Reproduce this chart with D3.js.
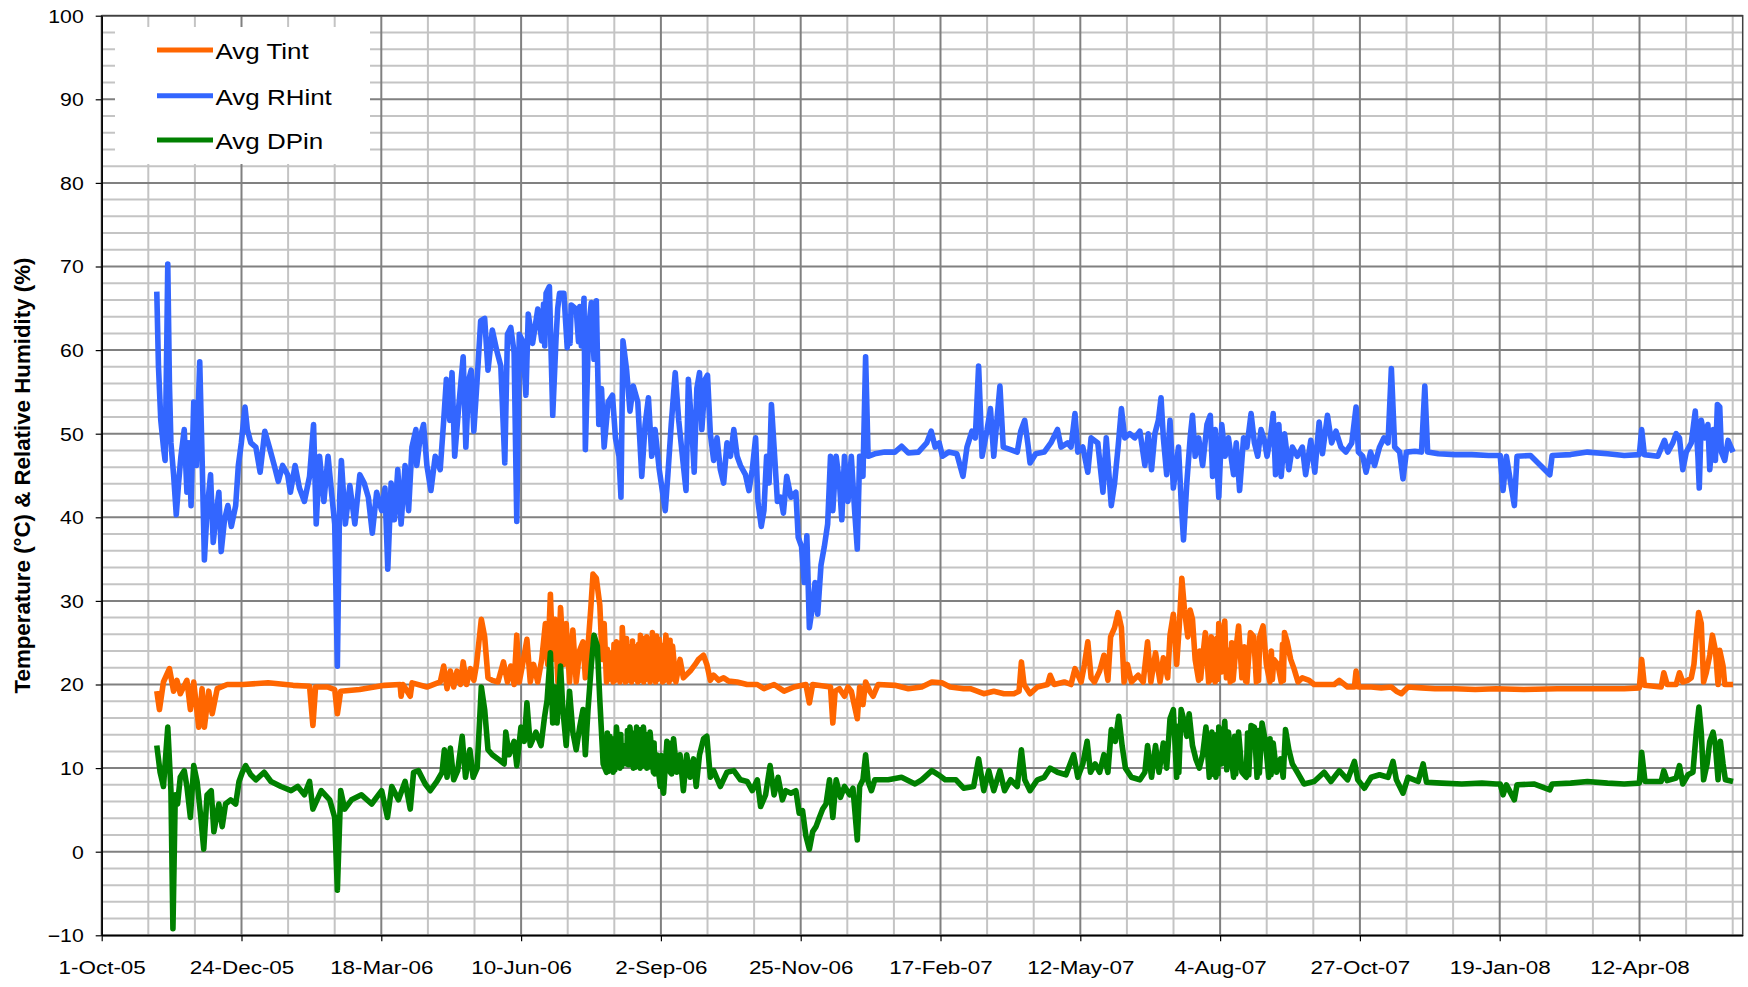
<!DOCTYPE html>
<html>
<head>
<meta charset="utf-8">
<script src="https://cdn.jsdelivr.net/npm/d3@7"></script>
<style>
  html, body { margin: 0; padding: 0; background: #fff; }
  svg { display: block; }
  text { font-family: "Liberation Sans", Arial, sans-serif; fill: #000; }
</style>
</head>
<body>
<svg id="chart" width="1748" height="987"></svg>
<script>
// ---------------- DATA ----------------
// Time axis: values are days elapsed since originDate
const originDate = "2005-10-01";
const endDate = "2008-06-13";
const xTickLabels = ["1-Oct-05", "24-Dec-05", "18-Mar-06", "10-Jun-06", "2-Sep-06", "25-Nov-06",
  "17-Feb-07", "12-May-07", "4-Aug-07", "27-Oct-07", "19-Jan-08", "12-Apr-08"];
const yTickValues = [-10, 0, 10, 20, 30, 40, 50, 60, 70, 80, 90, 100];
const yAxisTitle = "Temperature (°C) & Relative Humidity (%)";
const seriesNames = ["Avg Tint", "Avg RHint", "Avg DPin"];

// [day since origin, value]
const avgTint = [
[33.1,19.2],[34.7,17.0],[37.1,20.3],[40.7,21.9],[43.2,19.2],[45.2,20.5],[47.2,18.9],[51.2,20.5],[53.3,17.0],[55.3,20.3],
[58.3,14.9],[60.3,19.5],[61.7,14.9],[64.3,19.2],[66.4,16.5],[69.4,19.5],[75.4,20.0],[85.0,20.0],[100.0,20.2],[115.0,19.9],
[124.9,19.8],[126.9,15.1],[128.5,19.7],[136.0,19.7],[140.0,19.4],[141.6,16.5],[143.6,19.2],[155.0,19.4],[170.0,19.9],[179.3,20.0],
[179.9,18.6],[181.0,20.0],[185.4,18.6],[186.5,20.2],[195.4,19.7],[203.4,20.3],[205.5,22.2],[207.5,19.5],[209.5,21.6],[211.5,19.7],
[213.5,21.6],[215.6,20.0],[217.2,22.7],[219.2,20.0],[221.6,21.9],[223.6,20.5],[225.2,22.4],[228.1,27.8],[230.1,25.7],[232.1,20.8],
[234.7,20.5],[238.1,20.3],[241.4,22.7],[243.8,20.3],[245.8,22.2],[247.8,20.0],[249.4,25.9],[250.9,20.3],[252.9,22.4],[255.5,25.4],
[257.5,20.3],[259.5,22.4],[262.0,20.3],[264.4,23.0],[266.6,27.3],[268.0,22.4],[269.6,30.8],[271.0,23.0],[272.4,27.8],[274.1,20.3],
[275.7,29.2],[277.7,22.4],[279.1,27.3],[281.1,20.3],[283.1,26.5],[285.1,20.3],[287.2,24.1],[289.2,25.1],[290.6,20.8],[292.2,24.6],
[293.8,28.9],[295.2,33.2],[297.2,32.7],[299.3,29.5],[300.7,23.0],[301.9,27.3],[303.3,20.3],[303.8,24.2],[304.3,20.6],[305.3,23.8],
[307.3,20.3],[307.8,24.8],[308.3,20.5],[309.3,25.1],[311.4,20.3],[311.9,25.0],[312.3,20.6],[312.8,26.8],[314.8,20.3],[315.3,25.5],
[315.8,20.5],[316.4,24.6],[318.4,20.3],[318.9,25.2],[319.4,20.6],[320.0,24.6],[322.1,20.3],[322.6,24.8],[323.1,20.5],[323.7,25.9],
[325.7,20.3],[326.2,25.5],[326.7,20.6],[327.5,25.7],[329.5,20.3],[330.0,24.6],[330.4,20.5],[330.9,26.2],[332.9,20.3],[333.4,25.8],
[333.9,20.6],[335.0,25.4],[337.0,20.3],[337.5,24.7],[338.0,20.5],[339.0,25.9],[341.0,20.3],[341.5,25.3],[342.0,20.6],[343.0,24.6],
[345.0,20.3],[347.5,23.0],
[349.5,20.8],[353.6,21.6],[356.6,22.4],[358.6,23.0],[361.6,23.5],[363.6,22.4],[365.7,20.5],[367.7,21.1],[370.7,20.5],[373.7,20.8],
[376.7,20.4],[381.8,20.3],[387.8,20.0],[393.9,20.0],[397.9,19.5],[404.0,20.0],[410.0,19.2],[416.1,19.7],[423.1,20.0],[425.2,17.8],
[427.2,20.0],[437.9,19.7],[439.3,15.4],[440.7,19.2],[443.3,19.5],[446.3,18.6],[448.4,19.7],[450.4,19.2],[454.0,15.9],[455.4,19.7],
[457.4,17.6],[459.0,20.3],[461.5,19.2],[463.5,18.6],[466.5,20.0],[476.6,19.9],[484.7,19.5],[492.7,19.7],[498.8,20.3],[504.8,20.2],
[509.8,19.7],[517.9,19.5],[521.9,19.5],[530.0,18.9],[536.0,19.2],[542.1,18.9],[548.1,18.9],[551.2,19.2],[552.6,22.7],[554.2,20.0],
[557.8,18.9],[562.2,19.7],[568.3,20.0],[569.9,21.1],[572.3,20.0],[578.4,20.3],[582.4,20.0],[584.8,21.9],[588.5,20.3],[590.5,22.4],
[592.5,25.1],[594.5,20.8],[596.5,20.3],[599.6,21.6],[602.2,23.5],[604.6,20.5],[606.2,25.7],[608.6,26.8],[610.7,28.6],[612.7,26.8],
[614.3,20.3],[616.3,22.4],[618.7,20.3],[622.8,21.1],[625.8,20.3],[628.4,25.1],[630.4,20.3],[633.2,23.8],[635.9,20.3],[637.9,23.2],
[640.5,20.8],[641.9,25.9],[643.9,28.4],[645.9,22.4],[647.4,26.8],[649.0,32.7],[650.6,28.9],[652.6,25.7],[654.0,28.9],[655.4,27.8],
[657.0,23.0],[659.1,20.5],[659.8,24.0],[660.3,20.7],[661.1,22.4],[663.1,26.2],[665.1,20.3],[665.8,24.2],[666.2,20.5],[666.7,25.7],
[669.1,20.3],[669.9,25.5],[670.5,20.6],[671.2,27.3],[673.0,21.5],[674.8,27.6],[675.8,20.8],[677.0,24.1],[678.1,20.3],[679.0,25.0],
[679.8,20.5],[681.1,23.5],[683.1,27.0],[685.1,20.8],[686.5,24.5],[687.3,20.4],[688.1,20.3],[690.2,26.2],[692.2,25.7],[693.8,20.3],
[694.6,24.8],[695.1,20.5],[695.8,25.7],[697.8,27.0],[699.8,22.4],[701.9,20.3],[702.8,24.0],[703.4,20.6],[704.3,23.0],[706.7,22.4],
[708.7,20.3],[709.5,24.8],[710.0,20.5],[710.7,26.2],[712.3,25.1],[714.4,23.0],
[716.4,21.9],[718.8,20.3],[721.4,20.8],[725.5,20.5],[728.5,20.0],[734.5,20.0],[740.6,20.0],[743.6,20.5],[748.6,19.7],[752.7,19.7],
[753.7,21.6],[755.1,19.7],[762.8,19.7],[768.8,19.6],[774.9,19.7],[777.9,19.2],[780.9,18.9],[784.9,19.7],[793.0,19.6],[801.1,19.5],
[813.2,19.5],[825.3,19.4],[837.8,19.5],[854.4,19.4],[874.6,19.5],[894.7,19.5],[914.8,19.5],[923.9,19.6],[925.3,23.0],[926.9,19.9],
[937.0,19.7],[938.6,21.4],[940.6,20.0],[946.0,20.0],[948.0,21.4],[950.0,20.3],[953.1,20.5],[955.1,20.8],[956.7,22.4],[958.1,25.7],
[959.5,28.6],[961.1,27.3],[962.5,20.3],[964.1,21.4],[966.2,23.5],[967.8,25.9],[969.6,24.1],[971.2,20.0],[972.2,24.1],[974.2,22.2],
[975.2,20.0],[980.2,20.0]
];

const avgRHint = [
[33.1,67.0],[34.1,58.1],[35.5,51.6],[37.1,48.4],[38.1,46.8],[39.1,60.8],[39.7,70.3],[40.7,55.9],[41.6,48.9],[43.2,45.1],
[44.8,40.3],[46.2,44.1],[47.6,47.3],[49.6,50.5],[51.2,43.0],[52.4,48.9],[53.7,41.4],[55.3,53.8],[56.9,46.2],[58.9,58.6],
[60.3,47.3],[61.7,34.9],[63.3,40.8],[65.4,45.1],[67.0,37.0],[69.0,40.8],[70.4,43.0],[71.8,35.9],[73.8,39.7],[75.8,41.4],
[77.9,38.9],[80.5,41.4],[82.1,46.2],[83.9,48.9],[86.1,53.2],[87.5,50.5],[89.6,48.9],[92.6,48.4],[95.2,45.4],[98.0,50.3],
[100.7,48.4],[103.7,46.2],[106.1,44.3],[108.7,46.2],[111.7,45.1],[113.4,43.0],[116.2,46.2],[118.8,43.5],[121.8,41.9],[124.9,44.9],
[127.3,51.1],[128.9,39.2],[130.9,47.3],[133.5,41.9],[136.0,47.3],[138.4,42.4],[140.0,39.2],[141.6,22.2],[143.0,42.4],[144.0,46.8],
[146.4,39.2],[149.1,43.8],[152.1,39.2],[155.1,45.1],[157.7,44.1],[160.2,42.4],[162.6,38.1],[165.2,43.0],[168.2,40.8],[170.2,43.5],
[171.9,33.8],[173.9,44.1],[175.9,39.7],[177.9,45.7],[179.9,39.2],[182.3,46.2],[184.4,40.8],[186.4,48.4],[188.8,50.5],[189.3,46.2],
[191.3,49.5],[193.4,51.1],[195.4,46.2],[197.8,43.2],[200.4,47.3],[203.4,45.7],[205.5,51.6],[207.1,56.5],[209.1,51.6],[210.5,57.3],
[212.1,47.3],[214.5,53.2],[217.2,59.2],[218.8,48.4],[220.6,56.5],[222.0,57.6],[223.6,50.3],[225.6,56.5],[227.7,63.5],[230.1,63.8],
[232.1,57.6],[234.7,62.4],[237.3,60.0],[239.8,58.1],[242.2,46.5],[243.8,61.9],[245.8,62.7],[247.8,59.7],[249.4,39.5],[250.9,61.9],
[252.9,61.1],[254.9,54.6],[256.3,64.3],[258.9,60.8],[262.0,64.9],[264.4,61.1],[265.5,65.5],[266.2,60.5],[267.0,66.8],[269.0,67.6],
[271.0,52.2],[273.0,61.4],[274.0,65.0],[275.1,66.8],[277.7,66.8],[279.7,60.3],[280.8,64.0],[281.4,60.8],[282.1,65.4],[285.1,64.9],
[286.5,61.0],[287.3,65.2],[288.2,60.5],[289.8,66.2],[290.6,48.1],[292.6,62.7],[294.2,65.7],
[295.8,58.9],[297.2,65.9],[298.7,51.1],[300.3,55.4],[301.9,48.4],[304.3,53.8],[306.9,54.6],[308.7,49.5],[310.8,47.3],[312.0,42.4],
[313.2,61.1],[315.4,57.6],[317.4,52.7],[319.4,55.7],[322.1,53.8],[324.5,44.9],[326.5,51.1],[328.5,54.3],[330.5,47.3],[332.5,50.5],
[335.0,45.7],[337.0,43.0],[338.6,40.8],[340.2,45.1],[342.2,51.1],[344.6,57.3],[346.7,51.6],[349.5,46.2],[351.1,43.2],[352.5,56.5],
[354.6,50.5],[356.0,45.4],[357.6,55.4],[359.2,57.3],[360.6,50.5],[362.6,56.5],[364.0,57.0],[365.7,50.0],[367.7,46.8],[369.7,49.5],
[371.7,45.7],[373.7,44.1],[375.7,48.9],[377.8,47.3],[379.8,50.5],[381.8,47.3],[383.8,46.2],[386.8,45.1],[388.9,43.2],[390.9,45.7],
[392.9,49.5],[394.3,41.9],[396.3,38.9],[397.9,40.8],[399.5,47.3],[401.0,44.1],[402.4,53.5],[404.0,48.4],[406.0,41.9],[408.0,42.4],
[409.6,40.5],[411.6,44.9],[414.1,42.4],[417.1,43.0],[418.5,37.6],[420.5,36.5],[422.1,32.2],[423.7,37.8],[425.2,26.8],[427.2,29.5],
[428.6,32.2],[430.2,28.4],[432.2,34.3],[434.2,36.5],[436.2,39.2],[437.9,47.3],[439.3,40.8],[441.3,47.3],[443.3,44.1],[444.7,39.7],
[446.3,47.3],[448.4,41.9],[450.4,47.3],[452.4,40.8],[454.0,36.2],[455.4,47.3],[457.4,44.9],[459.0,59.2],[460.5,47.3],[464.5,47.6],
[470.5,47.8],[476.6,47.8],[480.6,48.5],[484.7,47.7],[490.7,47.8],[495.7,48.9],[498.4,50.3],[500.8,48.4],[503.2,48.9],[505.2,47.3],
[508.9,47.8],[513.8,47.6],[517.5,44.9],[519.9,48.4],[522.9,50.3],[524.9,49.5],[526.9,58.1],[529.0,47.3],[532.0,50.5],[534.0,53.0],
[536.0,47.3],[539.7,55.7],[541.7,48.4],[546.1,48.1],[550.1,47.8],[552.2,50.3],[554.6,51.6],[556.6,48.6],[557.8,46.5],[561.2,47.6],
[566.3,47.8],[570.3,48.9],[574.3,50.5],[576.4,48.4],[580.4,48.9],[582.4,48.4],[584.8,52.4],[586.5,47.8],[589.5,48.4],[592.5,45.4],
[594.5,49.5],[598.5,48.9],[601.6,43.0],[603.6,49.5],[606.6,41.4],[608.6,44.1],[610.7,48.4],[612.7,53.0],[614.7,49.5],[617.7,50.0],
[620.7,49.5],[623.8,50.3],[626.8,46.2],[628.8,50.0],[630.8,45.7],[632.8,50.0],[634.9,51.6],[636.5,54.3],[637.9,49.5],[639.9,45.1],
[641.9,51.6],[643.9,43.5],[647.0,48.4],[648.6,41.9],[650.0,37.3],[652.0,44.1],[654.0,49.5],[655.4,52.2],[657.0,47.3],[659.1,49.5],
[661.5,46.2],[664.1,51.1],[666.1,52.2],[667.5,44.9],[669.1,50.5],[671.2,42.4],[673.0,51.1],[675.0,47.3],[677.0,49.5],[680.1,45.1],
[681.7,48.9],[683.7,43.2],[686.1,49.5],[688.1,48.4],[690.6,52.4],[692.6,48.9],[694.6,47.3],[696.6,50.5],[698.6,49.2],[700.2,47.3],
[702.3,49.7],[703.9,52.4],[705.3,45.1],[707.3,51.1],[708.7,44.9],[710.7,50.0],[713.3,45.7],[715.4,48.4],[718.4,47.3],[721.4,48.4],
[723.4,45.1],[726.5,49.2],[728.9,45.4],[731.5,51.4],[733.5,47.6],[736.5,52.2],[739.0,48.9],[741.6,50.3],[744.6,48.4],[747.6,47.8],
[751.1,48.9],[753.7,53.2],[755.1,47.8],[757.7,47.3],[759.7,45.4],[762.4,47.8],[764.8,46.2],[767.8,48.4],[770.4,49.5],[772.9,48.9],
[774.9,57.8],[776.9,48.4],[779.9,47.8],[781.9,44.6],[783.9,47.8],[789.0,47.9],[793.0,47.8],[795.0,55.7],[796.7,47.8],[803.1,47.6],
[813.2,47.5],[823.3,47.5],[833.4,47.4],[840.3,47.4],[842.0,43.2],[844.0,47.3],[848.8,41.4],[850.4,47.3],[858.5,47.4],[870.1,45.1],
[871.5,47.4],[882.6,47.5],[892.7,47.8],[904.8,47.6],[914.8,47.4],[923.9,47.5],[925.3,50.5],[926.9,47.5],[935.0,47.3],[939.0,49.2],
[941.0,47.8],[944.0,48.9],[946.0,50.0],[948.0,49.5],[950.0,45.7],[952.1,47.8],[955.1,48.9],[957.5,52.7],[959.1,47.3],[959.9,43.5],
[961.1,51.6],[963.1,49.5],[965.1,51.1],[966.2,45.7],[968.2,50.5],[969.6,46.8],[970.8,53.5],[972.2,53.2],[973.2,47.8],[975.2,46.8],
[977.2,49.2],[980.2,47.8]
];

const avgDPin = [
[33.1,12.7],[35.1,9.5],[37.1,7.8],[39.7,14.9],[41.6,7.3],[42.8,-9.2],[44.2,6.8],[45.6,5.7],[47.2,8.9],[49.6,9.7],
[51.2,7.8],[53.3,4.1],[55.3,10.3],[57.3,8.4],[59.3,4.6],[61.3,0.3],[63.3,6.8],[65.8,7.3],[67.4,2.4],[70.4,5.7],
[72.4,3.0],[74.4,5.7],[77.5,6.2],[80.5,5.7],[82.5,8.4],[84.5,9.5],[86.5,10.3],[89.6,9.2],[92.6,8.6],[97.6,9.5],
[101.7,8.4],[107.7,7.8],[113.8,7.3],[117.8,7.8],[121.8,6.8],[124.9,8.4],[126.9,5.1],[131.9,7.3],[137.0,6.2],[140.0,4.1],
[141.6,-4.6],[143.6,7.3],[146.0,5.1],[150.1,6.2],[156.1,6.8],[162.2,5.7],[168.2,7.3],[171.7,4.1],[174.3,7.8],[178.3,6.2],
[182.3,8.4],[185.4,5.1],[187.4,9.5],[190.3,9.7],[194.4,8.1],[197.4,7.3],[201.4,8.4],[204.5,9.5],[205.9,12.2],[207.5,8.9],
[209.5,12.4],[211.5,8.6],[213.9,9.7],[216.6,13.8],[218.6,8.9],[221.2,12.2],[223.2,8.9],[225.6,10.0],[228.1,19.7],[230.1,17.0],
[232.1,12.2],[234.7,11.6],[238.1,11.1],[241.8,10.5],[242.8,14.3],[244.8,11.6],[247.8,13.2],[249.4,10.3],[251.9,14.9],[253.9,13.2],
[255.5,17.8],[257.5,12.7],[260.9,14.3],[264.0,12.7],[266.0,16.0],[267.6,18.1],[269.6,23.8],[271.0,15.4],[272.4,19.7],[273.6,15.4],
[275.7,22.2],[277.1,17.0],[279.1,12.7],[281.1,19.2],[283.1,14.3],[285.1,12.2],[287.2,14.9],[289.2,17.0],[290.6,11.6],[292.2,17.0],
[294.2,22.4],[295.8,25.9],[297.8,24.6],[299.3,18.1],[301.3,10.5],[303.3,9.5],[303.8,14.2],[304.3,9.6],[305.3,13.8],[307.3,9.5],
[307.8,13.5],[308.3,9.8],[309.3,14.9],[311.4,10.0],[311.9,14.0],[312.4,10.2],[313.4,12.7],[315.4,10.5],[315.9,14.5],[316.4,10.4],
[317.4,14.9],[319.4,10.0],[319.9,14.2],[320.4,10.1],[321.4,14.9],[323.5,10.0],[323.9,14.6],[324.4,10.2],[325.5,14.9],[327.5,10.0],
[327.9,14.0],[328.4,10.1],[329.5,14.3],[331.5,9.5],[331.9,13.0],[332.4,9.3],[333.5,11.6],[335.6,7.8],[336.1,11.5],[336.6,8.0],
[337.6,7.0],[339.6,13.2],[341.6,9.5],[342.0,13.0],[342.5,9.3],[343.6,13.5],[345.6,9.5],[347.5,11.6],[349.5,7.3],[351.5,11.6],
[353.6,8.9],[355.6,11.1],[357.2,7.8],[359.2,11.6],[361.6,13.5],[363.6,13.8],[365.7,8.9],[367.7,9.7],[371.7,7.8],[375.7,9.5],
[379.8,9.7],[383.8,8.6],[387.8,8.4],[390.9,7.3],[393.9,8.6],[395.9,5.4],[398.9,6.8],[401.6,10.3],[404.0,6.8],[406.4,8.9],
[409.0,6.2],[411.0,7.3],[414.1,7.0],[417.1,7.3],[419.1,4.6],[421.1,4.9],[423.1,1.9],[425.2,0.3],[427.2,2.4],[429.2,3.0],
[431.2,4.1],[433.2,5.1],[435.2,5.7],[437.3,8.6],[439.3,4.1],[441.3,8.6],[443.9,6.5],[446.3,7.8],[449.4,6.8],[451.4,7.6],
[454.0,1.4],[455.4,7.8],[457.4,8.6],[459.0,11.6],[460.5,8.4],[462.5,7.3],[464.5,8.6],[472.6,8.6],[480.6,8.9],[488.7,8.1],
[492.7,8.6],[498.8,9.7],[502.8,9.2],[506.8,8.6],[513.3,8.6],[517.9,7.6],[523.9,7.8],[526.9,11.1],[530.0,7.3],[533.0,9.7],
[536.0,7.3],[539.7,9.7],[542.5,7.3],[546.1,8.6],[550.1,7.8],[552.6,12.2],[554.6,8.6],[557.8,7.3],[562.2,8.6],[566.3,8.9],
[569.9,10.0],[574.3,9.5],[579.4,9.2],[584.0,11.6],[586.5,8.9],[589.5,10.5],[592.1,13.2],[594.1,9.5],[596.9,10.5],[599.6,9.5],
[602.2,11.6],[604.6,9.5],[606.6,14.6],[609.0,13.2],[611.1,16.2],[613.1,12.7],[615.1,10.0],[618.7,8.9],[623.8,8.6],[626.8,9.5],
[628.4,12.7],[630.8,8.9],[633.2,12.7],[635.3,9.5],[637.9,13.0],[639.9,10.0],[641.9,15.9],[643.9,17.0],[645.9,8.9],[646.6,15.0],
[647.2,9.5],[648.6,17.0],
[650.0,15.9],[652.0,13.8],[653.4,16.5],[655.4,12.7],[657.4,11.1],[659.5,10.0],[661.5,11.6],[663.5,14.9],[665.5,8.9],[666.1,13.5],
[666.5,9.2],[667.1,14.3],[669.5,8.9],[670.1,14.0],[670.6,9.3],[671.2,14.9],[672.8,10.5],[674.8,15.6],[676.0,9.8],[677.0,14.3],
[680.1,8.9],[680.8,13.8],[681.4,9.3],[683.1,14.3],[685.1,9.5],[687.7,8.9],[688.5,14.2],[689.2,9.2],
[690.6,15.1],[692.6,14.9],[694.2,8.9],[695.0,14.5],[695.6,9.4],[697.2,15.4],[699.2,13.2],[701.2,8.9],[702.0,13.5],[702.6,9.2],
[703.9,13.0],[705.9,9.5],[708.3,11.1],[709.9,8.9],
[711.3,14.6],[713.3,12.2],[715.4,10.5],[718.4,9.5],[722.4,8.1],[728.5,8.4],[734.5,9.5],[738.6,8.4],[743.6,9.7],[748.6,8.6],
[752.7,10.8],[754.7,8.6],[758.7,7.6],[762.8,8.9],[767.8,9.2],[772.9,8.9],[775.9,10.8],[777.9,8.6],[781.9,7.0],[784.9,8.9],
[791.0,8.4],[794.0,10.5],[796.0,8.3],[805.1,8.2],[817.2,8.1],[829.3,8.2],[837.8,8.1],[840.3,8.1],[842.0,6.8],[844.0,8.0],
[848.8,6.2],[850.4,8.0],[860.5,8.1],[870.1,7.4],[871.5,8.1],[882.6,8.2],[892.7,8.4],[904.8,8.2],[914.8,8.1],[923.9,8.2],
[925.3,11.9],[927.3,8.4],[937.0,8.4],[938.6,9.7],[940.6,8.5],[946.0,8.8],[948.0,10.3],[950.0,8.1],[953.1,9.2],[956.1,9.5],
[958.1,14.3],[959.7,17.3],[961.1,14.3],[962.5,8.6],[964.6,10.5],[966.2,13.2],[968.2,14.3],[969.6,12.7],[971.2,8.6],[972.6,13.2],
[974.2,10.5],[975.6,8.6],[980.2,8.4]
];

// ---------------- STYLE / LAYOUT ----------------
const seriesColors = ["#FF6600", "#3366FF", "#008000"];
const W = 1748, H = 987;
const plot = { left: 101.7, top: 15.7, right: 1742.7, bottom: 935.3 };
const TEXT_STRETCH = 1.18;

const svg = d3.select("#chart");
const parseISO = d3.utcParse("%Y-%m-%d");
const parseTick = d3.utcParse("%d-%b-%y");
const origin = parseISO(originDate);
const toDate = d => new Date(origin.getTime() + d * 864e5);

const x = d3.scaleUtc().domain([origin, parseISO(endDate)]).range([plot.left, plot.right]);
const y = d3.scaleLinear().domain([-10, 100]).range([plot.bottom, plot.top]);

svg.append("rect").attr("x", 0).attr("y", 0).attr("width", W).attr("height", H).attr("fill", "#fff");

// ---- gridlines ----
const grid = svg.append("g");
const totalDays = d3.utcDay.count(origin, parseISO(endDate));
const minorDays = d3.range(0, totalDays + 1, 28).filter(d => d % 84 !== 0);
const majorDays = d3.range(0, totalDays + 1, 84);
const minorY = d3.range(-10, 101, 2).filter(v => v % 10 !== 0);

grid.selectAll("line.hmin").data(minorY).join("line")
  .attr("x1", plot.left).attr("x2", plot.right)
  .attr("y1", d => y(d)).attr("y2", d => y(d))
  .attr("stroke", "#C4C4C4").attr("stroke-width", 2);
grid.selectAll("line.vmin").data(minorDays).join("line")
  .attr("x1", d => x(toDate(d))).attr("x2", d => x(toDate(d)))
  .attr("y1", plot.top).attr("y2", plot.bottom)
  .attr("stroke", "#C4C4C4").attr("stroke-width", 2);
grid.selectAll("line.hmaj").data(yTickValues).join("line")
  .attr("x1", plot.left).attr("x2", plot.right)
  .attr("y1", d => y(d)).attr("y2", d => y(d))
  .attr("stroke", "#808080").attr("stroke-width", 2);
grid.selectAll("line.vmaj").data(majorDays).join("line")
  .attr("x1", d => x(toDate(d))).attr("x2", d => x(toDate(d)))
  .attr("y1", plot.top).attr("y2", plot.bottom)
  .attr("stroke", "#808080").attr("stroke-width", 2);

svg.append("rect")
  .attr("x", plot.left).attr("y", plot.top)
  .attr("width", plot.right - plot.left).attr("height", plot.bottom - plot.top)
  .attr("fill", "none").attr("stroke", "#404040").attr("stroke-width", 1.5);

// ---- legend background (covers gridlines) ----
const legend = svg.append("g");
legend.append("rect").attr("x", 115).attr("y", 27).attr("width", 255).attr("height", 137).attr("fill", "#fff");

// ---- data lines ----
const line = d3.line().x(d => x(toDate(d[0]))).y(d => y(d[1]));
const allSeries = [avgTint, avgRHint, avgDPin];
svg.append("g").selectAll("path").data(allSeries).join("path")
  .attr("d", line)
  .attr("fill", "none")
  .attr("stroke", (d, i) => seriesColors[i])
  .attr("stroke-width", 5.6)
  .attr("stroke-linejoin", "round")
  .attr("stroke-linecap", "butt");

// ---- legend items ----
const legendRows = [50, 95.7, 140];
seriesNames.forEach((name, i) => {
  legend.append("line")
    .attr("x1", 157).attr("x2", 213).attr("y1", legendRows[i]).attr("y2", legendRows[i])
    .attr("stroke", seriesColors[i]).attr("stroke-width", 5);
  legend.append("text")
    .attr("transform", `translate(215.5,${legendRows[i] + 1}) scale(${TEXT_STRETCH},1)`)
    .attr("dy", "0.36em")
    .style("font-size", "22px")
    .text(name);
});

// ---- axes ----
const xTicks = xTickLabels.map(s => parseTick(s));
const xAxis = d3.axisBottom(x)
  .tickValues(xTicks)
  .tickFormat((d, i) => xTickLabels[i])
  .tickSize(6).tickSizeOuter(0);
const gx = svg.append("g").attr("transform", `translate(0,${plot.bottom})`).call(xAxis);
gx.select(".domain").attr("stroke", "#000").attr("stroke-width", 1.5);
gx.selectAll(".tick line").attr("stroke", "#000").attr("stroke-width", 1.2);
gx.selectAll(".tick text")
  .attr("y", 0).attr("dy", 0)
  .attr("transform", `translate(0,39) scale(${TEXT_STRETCH},1)`)
  .style("font-size", "19px").style("font-family", "'Liberation Sans', Arial, sans-serif").attr("fill", "#000");

const yAxis = d3.axisLeft(y).tickValues(yTickValues).tickSize(6).tickSizeOuter(0);
const gy = svg.append("g").attr("transform", `translate(${plot.left},0)`).call(yAxis);
gy.select(".domain").attr("stroke", "#000").attr("stroke-width", 1.5);
gy.selectAll(".tick line").attr("stroke", "#000").attr("stroke-width", 1.2);
gy.selectAll(".tick text")
  .attr("x", 0).attr("dy", "0.35em")
  .attr("transform", `translate(-18,0) scale(${TEXT_STRETCH},1)`)
  .style("font-size", "18px").style("font-family", "'Liberation Sans', Arial, sans-serif").attr("fill", "#000");

// ---- y axis title ----
svg.append("text")
  .attr("transform", `translate(29.5,${(plot.top + plot.bottom) / 2}) rotate(-90)`)
  .attr("text-anchor", "middle")
  .style("font-size", "22.3px").style("font-weight", "bold")
  .text(yAxisTitle);
</script>
</body>
</html>
